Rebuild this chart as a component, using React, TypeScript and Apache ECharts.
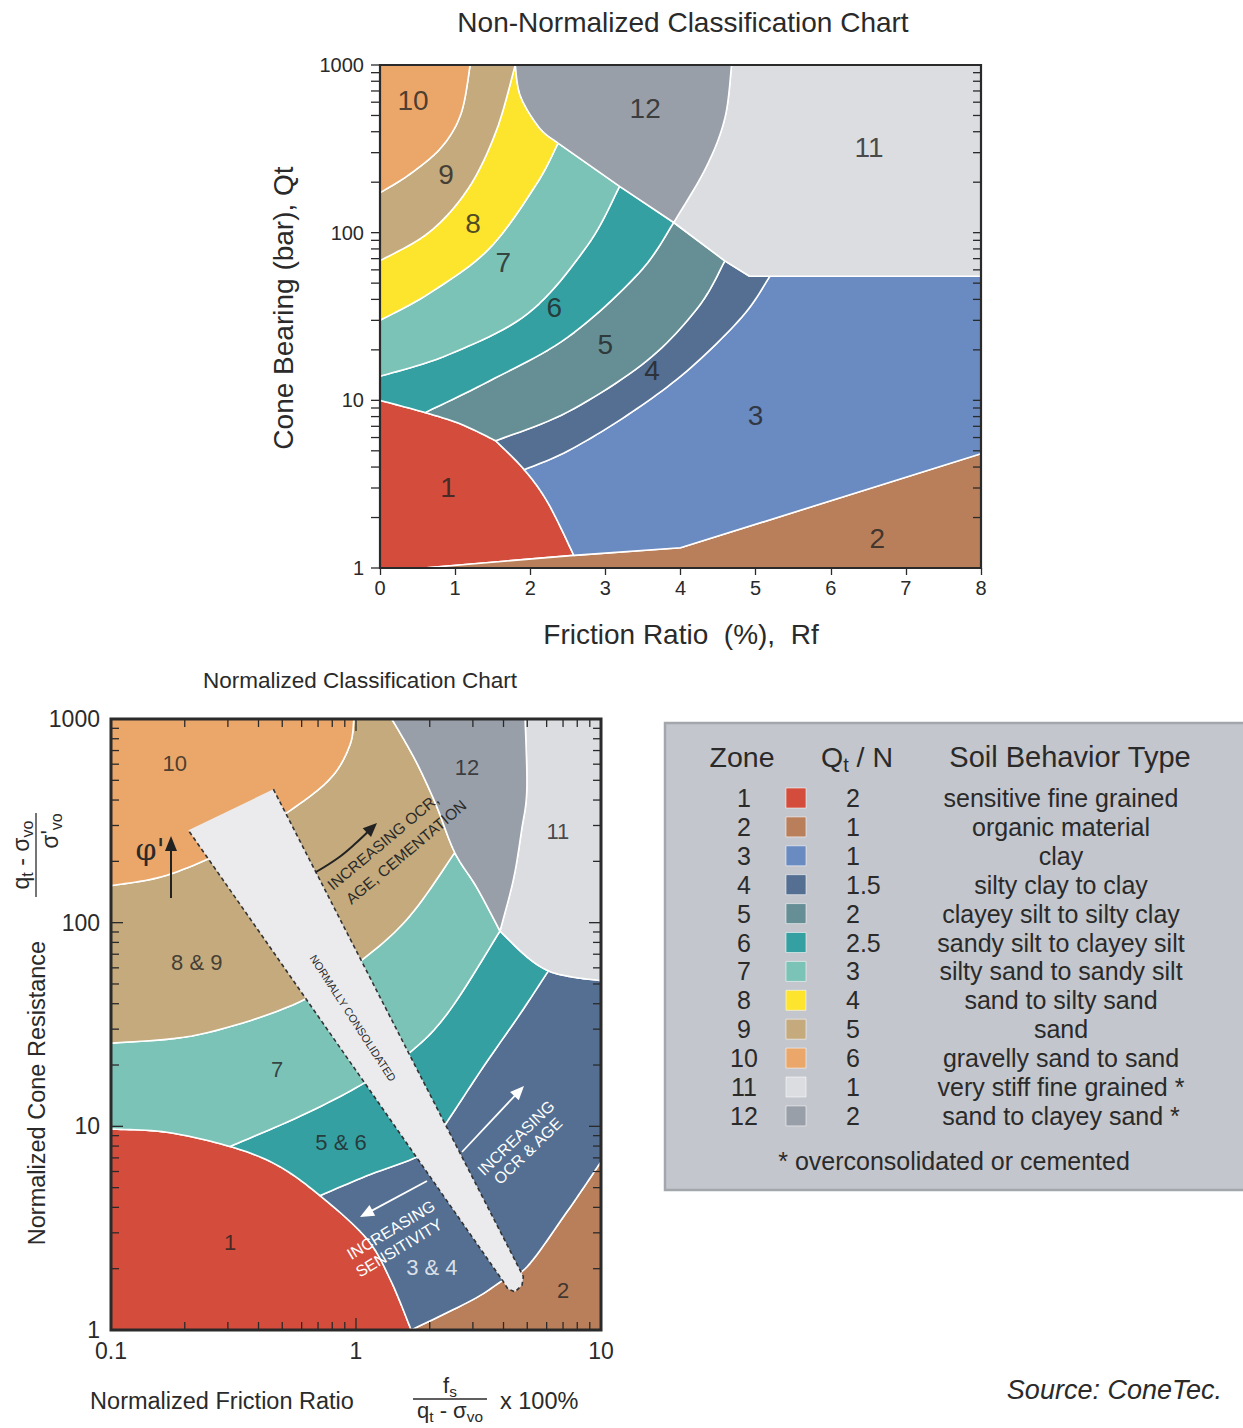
import React, { useEffect, useRef } from 'react';
import * as echarts from 'echarts';

const FONT = '"Liberation Sans", Arial, Helvetica, sans-serif';
const INK = '#2a2a2a';

// zone colours 1..12
const zoneColors = ['#d34c3c', '#b97f5b', '#6a8bc1', '#546f92', '#658f95', '#35a0a1', '#7cc3b7', '#fee52d', '#c4aa7c', '#eba769', '#dcdde1', '#999fa8'];

// ---------- Non-normalized chart boundaries [Rf %, Qt bar] ----------
const tRed1 = [[0, 10], [0.6, 8.45], [1.08, 7.2], [1.54, 5.74]];
const tRed2 = [[1.54, 5.74], [1.92, 3.86], [2.24, 2.43], [2.58, 1.19]];
const tOrg1 = [[0.58, 1], [2.58, 1.19]];
const tOrg2 = [[2.58, 1.19], [4, 1.32]];
const tOrg3 = [[4, 1.32], [8, 4.8]];
const t34 = [[1.92, 3.86], [2.5, 4.99], [3.29, 8.15], [4.08, 14.9], [4.82, 31.5], [5.19, 55]];
const t45 = [[1.54, 5.74], [2.5, 8.53], [3.55, 17.2], [4.24, 36.2], [4.59, 67.9]];
const t56 = [[0.6, 8.45], [1.45, 13], [2.5, 23.8], [3.45, 57.7], [3.91, 115]];
const t67 = [[0, 13.9], [0.92, 18.8], [1.97, 33], [2.76, 83.7], [3.19, 189]];
const t78 = [[0, 30], [0.66, 43.6], [1.45, 80], [2.08, 194], [2.37, 342]];
const t89 = [[0, 68], [0.66, 101], [1.18, 185], [1.55, 408], [1.8, 1000]];
const t910 = [[0, 173], [0.395, 223], [0.82, 324], [1.08, 516], [1.2, 1000]];
const t812 = [[1.8, 1000], [1.87, 652], [2.12, 423], [2.37, 342]];
const tDiag1 = [[2.37, 342], [3.19, 189]];
const tDiag2 = [[3.19, 189], [3.91, 115]];
const tDiag3 = [[3.91, 115], [4.59, 67.9]];
const tDiag4 = [[4.59, 67.9], [4.92, 55]];
const tFlat = [[4.92, 55], [5.19, 55]];
const t311 = [[5.19, 55], [8, 55]];
const t1211 = [[3.91, 115], [4.34, 245], [4.59, 481], [4.68, 1000]];

const topZoneText = ['1', '2', '3', '4', '5', '6', '7', '8', '9', '10', '11', '12'];
const topLabelPos = [[0.905, 3.04], [6.62, 1.49], [5.0, 8.07], [3.62, 15], [3.0, 21.4], [2.32, 36], [1.64, 66.8], [1.24, 114], [0.88, 221], [0.44, 618], [6.51, 320], [3.53, 554]];
const topColorIdx = [0, 1, 2, 3, 4, 5, 6, 7, 8, 9, 10, 11];

// ---------- Normalized chart boundaries [Fr %, Qt] ----------
const bRed = [[0.1, 9.7], [0.169, 9.35], [0.306, 7.96], [0.474, 6.47], [0.713, 4.57], [1.105, 2.81], [1.38, 1.77], [1.68, 1]];
const b7 = [[0.306, 7.96], [0.59, 11.2], [1.04, 15.9], [1.69, 23.5], [2.42, 37.3], [3.87, 91]];
const b89 = [[0.1, 25.6], [0.231, 28.3], [0.59, 40.9], [1.07, 66.4], [1.66, 108], [2.53, 221]];
const b10 = [[0.1, 152], [0.169, 171], [0.316, 237], [0.59, 384], [0.807, 530], [0.946, 750], [0.98, 1000]];
const b12L = [[1.4, 1000], [1.61, 750], [1.82, 569], [2.13, 375], [2.53, 221], [3.11, 149], [3.87, 91]];
const b1211 = [[4.9, 1000], [4.98, 450], [4.74, 284], [4.39, 163], [3.87, 91]];
const b11 = [[3.87, 91], [4.98, 68], [6.1, 58], [7.7, 54], [10, 52]];
const b3456 = [[0.713, 4.57], [1.1, 5.7], [1.94, 7.5], [2.35, 10.5], [3.31, 19.6], [4.67, 35.6], [6.1, 58]];
const b342 = [[1.68, 1], [3.0, 1.41], [4.0, 1.76], [5.0, 2.05], [7.2, 3.75], [8.2, 4.7], [10, 6.7]];
const bBand = [[0.46, 452], [4.82, 1.83], [4.76, 1.66], [4.46, 1.54], [4.17, 1.59], [3.99, 1.73], [0.207, 284]];

const bottomZoneText = ['1', '2', '3 & 4', '5 & 6', '7', '8 & 9', '10', '11', '12'];
const bottomLabelPos = [[0.306, 2.7], [7.0, 1.57], [2.04, 2.02], [0.869, 8.37], [0.476, 19.1], [0.224, 63.4], [0.182, 608], [6.67, 279], [2.84, 581]];
const bottomColorIdx = [0, 1, 3, 5, 6, 8, 9, 10, 11];

// ticks
const logTicks1to1000 = [1, 2, 3, 4, 5, 6, 7, 8, 9, 10, 20, 30, 40, 50, 60, 70, 80, 90, 100, 200, 300, 400, 500, 600, 700, 800, 900, 1000];
const logTicks01to10 = [0.1, 0.2, 0.3, 0.4, 0.5, 0.6, 0.7, 0.8, 0.9, 1, 2, 3, 4, 5, 6, 7, 8, 9, 10];

// legend table
const legendZone = ['1', '2', '3', '4', '5', '6', '7', '8', '9', '10', '11', '12'];
const legendQtN = ['2', '1', '1', '1.5', '2', '2.5', '3', '4', '5', '6', '1', '2'];
const legendSBT = ['sensitive fine grained', 'organic material', 'clay', 'silty clay to clay', 'clayey silt to silty clay', 'sandy silt to clayey silt', 'silty sand to sandy silt', 'sand to silty sand', 'sand', 'gravelly sand to sand', 'very stiff fine grained *', 'sand to clayey sand *'];

type Seg = { a: number[][]; i: number; j: number; straight?: boolean };
const S = (a: number[][], i = 0, j = a.length - 1): Seg => ({ a, i, j });
const R = (a: number[][]): Seg => S(a, a.length - 1, 0);
// straight polyline (plot edges): never smoothed
const P = (a: number[][]): Seg => ({ a, i: 0, j: a.length - 1, straight: true });

const topZones: Seg[][] = [
  [P([[0, 1], [0, 10]]), S(tRed1), S(tRed2), R(tOrg1)],
  [S(tOrg1), S(tOrg2), S(tOrg3), P([[8, 4.8], [8, 1]])],
  [S(t34), S(t311), P([[8, 55], [8, 4.8]]), R(tOrg3), R(tOrg2), S(tRed2, 3, 1)],
  [S(t45), S(tDiag4), S(tFlat), R(t34), S(tRed2, 1, 0)],
  [S(t56), S(tDiag3), R(t45), S(tRed1, 3, 1)],
  [S(t67), S(tDiag2), R(t56), S(tRed1, 1, 0), P([[0, 10], [0, 13.9]])],
  [S(t78), S(tDiag1), R(t67), P([[0, 13.9], [0, 30]])],
  [S(t89), S(t812), R(t78), P([[0, 30], [0, 68]])],
  [S(t910), P([[1.2, 1000], [1.8, 1000]]), R(t89), P([[0, 68], [0, 173]])],
  [P([[0, 1000], [1.2, 1000]]), R(t910), P([[0, 173], [0, 1000]])],
  [P([[4.68, 1000], [8, 1000], [8, 55]]), R(t311), R(tFlat), R(tDiag4), R(tDiag3), S(t1211)],
  [P([[1.8, 1000], [4.68, 1000]]), R(t1211), R(tDiag2), R(tDiag1), R(t812)],
];

const bottomZones: Seg[][] = [
  [P([[0.1, 1], [0.1, 9.7]]), S(bRed), P([[1.68, 1], [0.1, 1]])],
  [S(b342), P([[10, 6.7], [10, 1], [1.68, 1]])],
  [S(b3456), S(b11, 2, 4), P([[10, 52], [10, 6.7]]), R(b342), S(bRed, 7, 4)],
  [S(b7), S(b11, 0, 2), R(b3456), S(bRed, 4, 2)],
  [S(b89), S(b12L, 4, 6), R(b7), S(bRed, 2, 0), P([[0.1, 9.7], [0.1, 25.6]])],
  [S(b10), P([[0.98, 1000], [1.4, 1000]]), S(b12L, 0, 4), R(b89), P([[0.1, 25.6], [0.1, 152]])],
  [P([[0.1, 1000], [0.98, 1000]]), R(b10), P([[0.1, 152], [0.1, 1000]])],
  [P([[4.9, 1000], [10, 1000], [10, 52]]), R(b11), R(b1211)],
  [P([[1.4, 1000], [4.9, 1000]]), S(b1211), R(b12L)],
];

const STEPS = 12;
function catmull(p: number[][]): number[][] {
  if (p.length < 3) return p;
  const out: number[][] = [];
  for (let k = 0; k < p.length - 1; k++) {
    const p0 = p[k - 1] || p[k], p1 = p[k], p2 = p[k + 1], p3 = p[k + 2] || p[k + 1];
    for (let s = 0; s < STEPS; s++) {
      const t = s / STEPS, t2 = t * t, t3 = t2 * t;
      out.push([0, 1].map((d) => 0.5 * (2 * p1[d] + (-p0[d] + p2[d]) * t + (2 * p0[d] - 5 * p1[d] + 4 * p2[d] - p3[d]) * t2 + (-p0[d] + 3 * p1[d] - 3 * p2[d] + p3[d]) * t3)));
    }
  }
  out.push(p[p.length - 1]);
  return out;
}
function segPixels(seg: Seg, coord: (p: number[]) => number[]) {
  const px = seg.a.map((p) => coord(p));
  if (seg.straight) return px;
  const sm = catmull(px);
  const m = seg.a.length < 3 ? 1 : STEPS;
  const lo = Math.min(seg.i, seg.j) * m, hi = Math.max(seg.i, seg.j) * m;
  const part = sm.slice(lo, hi + 1);
  return seg.i > seg.j ? part.reverse() : part;
}
function polyPixels(segs: Seg[], coord: (p: number[]) => number[]) {
  let out: number[][] = [];
  segs.forEach((s) => { out = out.concat(segPixels(s, coord)); });
  return out;
}

function zoneSeries(gi: number, zones: Seg[][], colorIdx: number[], labelPos: number[][]) {
  return {
    type: 'custom', xAxisIndex: gi, yAxisIndex: gi, z: 2, silent: true, clip: true,
    data: labelPos.map((p, i) => [p[0], p[1], i]),
    renderItem: (params: any, api: any) => {
      const k = api.value(2);
      const pts = polyPixels(zones[k], (p) => api.coord(p));
      return { type: 'polygon', shape: { points: pts }, style: { fill: zoneColors[colorIdx[k]], stroke: '#ffffff', lineWidth: 1.6, lineJoin: 'round' } };
    },
  };
}

function labelSeries(gi: number, texts: string[], pos: number[][], fs: number) {
  return {
    type: 'scatter', xAxisIndex: gi, yAxisIndex: gi, z: 5, silent: true, symbolSize: 1,
    itemStyle: { color: 'rgba(0,0,0,0)' },
    data: pos.map((p, i) => ({ value: p, name: texts[i], label: texts[i] === '3 & 4' ? { color: '#ffffff' } : undefined })),
    label: { show: true, position: 'inside', formatter: '{b}', fontSize: fs, color: '#222222', fontFamily: FONT, textBorderWidth: 0 },
  };
}

const isDecade = (v: number) => Math.abs(Math.log10(v) - Math.round(Math.log10(v))) < 1e-9;

function frameSeries(gi: number, mode: 'top' | 'bottom') {
  return {
    type: 'custom', xAxisIndex: gi, yAxisIndex: gi, z: 8, silent: true, data: [[1, 1]],
    renderItem: (params: any, api: any) => {
      const cs = params.coordSys;
      const L = cs.x, T = cs.y, Rr = cs.x + cs.width, B = cs.y + cs.height;
      const ch: any[] = [];
      const ln = (x1: number, y1: number, x2: number, y2: number) => ch.push({ type: 'line', shape: { x1, y1, x2, y2 }, style: { stroke: INK, lineWidth: 1.3 } });
      if (mode === 'top') {
        logTicks1to1000.forEach((v) => {
          const y = api.coord([1, v])[1];
          ln(L - 9, y, L, y);
          ln(Rr - 8, y, Rr, y);
        });
      } else {
        logTicks1to1000.forEach((v) => {
          const y = api.coord([1, v])[1];
          const len = isDecade(v) ? 12 : 8;
          ln(L, y, L + len, y);
          ln(Rr - len, y, Rr, y);
        });
        logTicks01to10.forEach((v) => {
          const x = api.coord([v, 1])[0];
          const len = isDecade(v) ? 12 : 8;
          ln(x, B - len, x, B);
          ln(x, T, x, T + len);
        });
      }
      ch.push({ type: 'rect', shape: { x: L, y: T, width: cs.width, height: cs.height }, style: { fill: 'none', stroke: INK, lineWidth: mode === 'top' ? 2.2 : 3 } });
      return { type: 'group', children: ch };
    },
  };
}

function bandSeries() {
  return {
    type: 'custom', xAxisIndex: 1, yAxisIndex: 1, z: 3, silent: true, data: [bBand[0]],
    renderItem: (params: any, api: any) => {
      const pts = bBand.map((p) => api.coord(p));
      return {
        type: 'group', children: [
          { type: 'polygon', shape: { points: pts }, style: { fill: '#ebebee', stroke: 'none' } },
          { type: 'polyline', shape: { points: pts }, style: { fill: 'none', stroke: '#333', lineWidth: 1.6, lineDash: [4, 3] } },
        ],
      };
    },
  };
}

// ---------- graphic helpers ----------
let mctx: CanvasRenderingContext2D | null = null;
function tw(text: string, fs: number) {
  if (!mctx) mctx = document.createElement('canvas').getContext('2d');
  if (!mctx) return text.length * fs * 0.55;
  mctx.font = `${fs}px "Liberation Sans"`;
  return mctx.measureText(text).width;
}
function gText(x: number, y: number, text: string, fs: number, o: any = {}) {
  const align = o.align || 'center';
  return {
    type: 'text', x, y, rotation: o.rotation || 0, z: o.z ?? 50,
    style: {
      text, fontSize: fs, fontFamily: o.family || FONT, fontStyle: o.italic ? 'italic' : 'normal', fill: o.color || INK,
      align, verticalAlign: 'middle', textAlign: align, textVerticalAlign: 'middle',
    },
  };
}
function subRow(cx: number, cy: number, parts: [string, number][], fs: number, align = 'center', color = INK) {
  const sfs = fs * 0.7;
  const widths = parts.map(([t, s]) => tw(t, s ? sfs : fs));
  const total = widths.reduce((a, b) => a + b, 0);
  let x = align === 'center' ? cx - total / 2 : cx;
  return parts.map(([t, s], i) => {
    const el = gText(x, s ? cy + fs * 0.28 : cy, t, s ? sfs : fs, { align: 'left', color });
    x += widths[i];
    return el;
  });
}
function gArrow(pts: number[][], color: string, lw: number, head: number, hw: number) {
  const [x2, y2] = pts[pts.length - 1];
  const [x1, y1] = pts[pts.length - 2];
  const a = Math.atan2(y2 - y1, x2 - x1);
  const bx = x2 - head * Math.cos(a), by = y2 - head * Math.sin(a);
  const nx = -Math.sin(a) * hw, ny = Math.cos(a) * hw;
  const linePts = pts.slice(0, -1).concat([[bx + (x2 - bx) * 0.3, by + (y2 - by) * 0.3]]);
  return [
    { type: 'polyline', z: 60, shape: { points: linePts, smooth: pts.length > 2 ? 0.4 : 0 }, style: { stroke: color, lineWidth: lw, fill: 'none' } },
    { type: 'polygon', z: 60, shape: { points: [[x2, y2], [bx + nx, by + ny], [bx - nx, by - ny]] }, style: { fill: color } },
  ];
}

function buildGraphic() {
  const els: any[] = [];
  els.push(gText(683, 22, 'Non-Normalized Classification Chart', 28));
  els.push(gText(283, 308, 'Cone Bearing (bar), Qt', 28, { rotation: Math.PI / 2 }));
  els.push(gText(681, 634, 'Friction Ratio  (%),  Rf', 28));
  els.push(gText(360, 680, 'Normalized Classification Chart', 22.5));
  els.push(gText(37, 1093, 'Normalized Cone Resistance', 23.5, { rotation: Math.PI / 2 }));
  // left fraction (rotated)
  els.push({
    type: 'group', x: 36, y: 855, rotation: Math.PI / 2,
    children: [
      ...subRow(0, -15, [['q', 0], ['t', 1], [' - σ', 0], ['vo', 1]], 23),
      { type: 'line', shape: { x1: -42, y1: 0, x2: 42, y2: 0 }, style: { stroke: INK, lineWidth: 1.3 } },
      ...subRow(24, 14, [["σ'", 0], ['vo', 1]], 23),
    ],
  });
  els.push(gText(222, 1401, 'Normalized Friction Ratio', 23.5));
  els.push(...subRow(450, 1385, [['f', 0], ['s', 1]], 22));
  els.push({ type: 'line', shape: { x1: 413, y1: 1399, x2: 487, y2: 1399 }, style: { stroke: INK, lineWidth: 1.3 } });
  els.push(...subRow(450, 1410, [['q', 0], ['t', 1], [' - σ', 0], ['vo', 1]], 22));
  els.push(gText(500, 1401, 'x 100%', 23.5, { align: 'left' }));
  els.push(gText(1222, 1390, 'Source: ConeTec.', 27, { align: 'right', italic: true }));

  // legend box
  els.push({ type: 'rect', z: 40, shape: { x: 665, y: 723, width: 600, height: 467 }, style: { fill: '#c3c6cc', stroke: '#a3a6ab', lineWidth: 2.5 } });
  els.push(gText(742, 757, 'Zone', 28.5));
  els.push(...subRow(857, 757, [['Q', 0], ['t', 1], [' / N', 0]], 28.5));
  els.push(gText(1070, 757, 'Soil Behavior Type', 29));
  legendZone.forEach((z, i) => {
    const y = 798 + i * 28.9;
    els.push(gText(744, y, z, 25));
    els.push({ type: 'rect', z: 50, shape: { x: 786, y: y - 10, width: 20, height: 20 }, style: { fill: zoneColors[i], stroke: 'rgba(255,255,255,0.55)', lineWidth: 1 } });
    els.push(gText(846, y, legendQtN[i], 25, { align: 'left' }));
    els.push(gText(1061, y, legendSBT[i], 25));
  });
  els.push(gText(954, 1161, '* overconsolidated or cemented', 25));

  // annotations in the normalized chart
  const r40 = (40 * Math.PI) / 180;
  els.push(gText(383, 842, 'INCREASING OCR,', 15.5, { rotation: r40, z: 70 }));
  els.push(gText(406, 852, 'AGE, CEMENTATION', 15.5, { rotation: r40, z: 70 }));
  els.push(...gArrow([[316, 872], [338, 858], [356, 843], [377, 823]], '#222', 2, 14, 6));
  els.push(gText(353, 1018, 'NORMALLY CONSOLIDATED', 11, { rotation: (-57 * Math.PI) / 180, z: 70 }));
  const r31 = (31 * Math.PI) / 180;
  els.push(gText(391, 1230, 'INCREASING', 16, { rotation: r31, color: '#ffffff', z: 70 }));
  els.push(gText(399, 1248, 'SENSITIVITY', 16, { rotation: r31, color: '#ffffff', z: 70 }));
  els.push(...gArrow([[427, 1181], [360, 1217]], '#ffffff', 1.8, 14, 6));
  const r44 = (44 * Math.PI) / 180;
  els.push(gText(516, 1138, 'INCREASING', 16, { rotation: r44, color: '#ffffff', z: 70 }));
  els.push(gText(528, 1151, 'OCR & AGE', 16, { rotation: r44, color: '#ffffff', z: 70 }));
  els.push(...gArrow([[462, 1152], [524, 1086]], '#ffffff', 1.8, 14, 6));
  els.push(gText(150, 849, "φ'", 30, { z: 70, family: '"DejaVu Serif", "Liberation Serif", serif' }));
  els.push(...gArrow([[171, 898], [171, 836]], '#222', 2, 15, 6));
  return els;
}

export default function App() {
  const ref = useRef<HTMLDivElement>(null);
  useEffect(() => {
    if (!ref.current) return;
    const chart = echarts.init(ref.current, null, { renderer: 'svg' });
    const plain = (v: number) => String(v);
    const axisLabel = (fs: number, margin: number) => ({ fontSize: fs, color: INK, fontFamily: FONT, margin, formatter: plain });
    chart.setOption({
      animation: false,
      backgroundColor: '#ffffff',
      grid: [
        { left: 380, top: 65, width: 601, height: 503 },
        { left: 111, top: 719, width: 490, height: 611 },
      ],
      xAxis: [
        { gridIndex: 0, type: 'value', min: 0, max: 8, interval: 1, axisLine: { show: false }, axisTick: { show: true, length: 7, lineStyle: { color: INK, width: 1.3 } }, axisLabel: axisLabel(20, 10), splitLine: { show: false } },
        { gridIndex: 1, type: 'log', logBase: 10, min: 0.1, max: 10, axisLine: { show: false }, axisTick: { show: false }, axisLabel: axisLabel(23, 9), splitLine: { show: false } },
      ],
      yAxis: [
        { gridIndex: 0, type: 'log', logBase: 10, min: 1, max: 1000, axisLine: { show: false }, axisTick: { show: false }, axisLabel: axisLabel(20, 16), splitLine: { show: false } },
        { gridIndex: 1, type: 'log', logBase: 10, min: 1, max: 1000, axisLine: { show: false }, axisTick: { show: false }, axisLabel: axisLabel(23, 11), splitLine: { show: false } },
      ],
      series: [
        zoneSeries(0, topZones, topColorIdx, topLabelPos),
        labelSeries(0, topZoneText, topLabelPos, 28),
        frameSeries(0, 'top'),
        zoneSeries(1, bottomZones, bottomColorIdx, bottomLabelPos),
        bandSeries(),
        labelSeries(1, bottomZoneText, bottomLabelPos, 22),
        frameSeries(1, 'bottom'),
      ],
      graphic: { elements: buildGraphic() },
    });
    return () => chart.dispose();
  }, []);
  return <div ref={ref} style={{ position: 'absolute', left: 0, top: 0, width: 1243, height: 1428, background: '#fff' }} />;
}
